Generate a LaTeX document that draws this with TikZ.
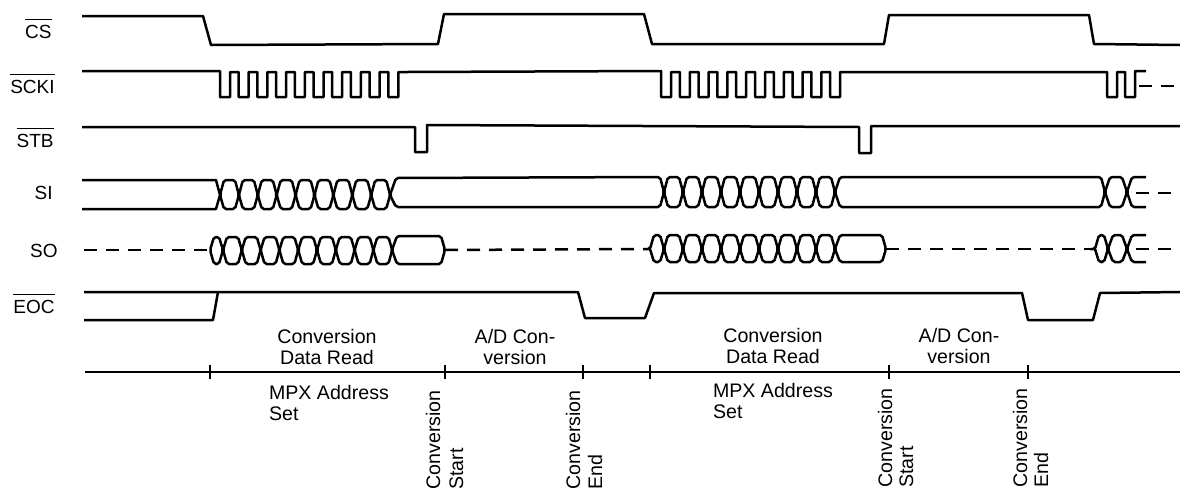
\documentclass[tikz,border=0pt]{standalone}
\usepackage{fontspec}
\usepackage{amsmath}
\setmainfont{Liberation Sans}
\usetikzlibrary{positioning}
\newcommand{\barsig}[1]{$\overline{\rule{0pt}{8pt}\mbox{#1}}$}
\tikzset{
  wave/.style={line width=1.25pt, line join=round},
  eye/.style={wave, rounded corners=1pt},
  dashwave/.style={line width=1.25pt, dash pattern=on 6.5pt off 4.5pt},
  signame/.style={anchor=base east, inner sep=0pt, font=\fontsize{9.5}{10}\selectfont},
  phase/.style={align=center, font=\fontsize{9.8}{10.5}\selectfont},
  event/.style={rotate=90, anchor=base west, inner sep=0pt, font=\fontsize{9.8}{10}\selectfont}
}
\begin{document}
\begin{tikzpicture}[x=0.5pt,y=-0.5pt]
\useasboundingbox (0,0) rectangle (1180,493);

% CS
\node[signame] (cs) at (52,38) {\barsig{CS}};
\draw[wave] (82,16) -- (203,16) -- (211,45) -- (438,44) -- (444,14) -- (644,14)
  -- (652,44) -- (884,44) -- (889,15) -- (1089,15) -- (1094,44) -- (1180,45);

% SCKI
\node[signame] (scki) at (55,93) {\barsig{SCKI}};
\draw[wave] (82,71) -- (220,71)
  \foreach \n in {0,...,9} {
    -- ({220+18.7*\n},97) -- ({230+18.7*\n},97) -- ({230+18.7*\n},72) -- ({238.7+18.7*\n},72)
  } -- (661,71)
  \foreach \n in {0,...,9} {
    -- ({661+18.8*\n},97) -- ({671+18.8*\n},97) -- ({671+18.8*\n},72) -- ({679.8+18.8*\n},72)
  } -- (1107,72) -- (1107,97) -- (1117,97) -- (1117,72) -- (1125,72) -- (1125,97) -- (1135,97)
  -- (1135,71) -- (1146,71);
\draw[dashwave] (1139,86) -- (1180,86);

% STB
\node[signame] (stb) at (54,147) {\barsig{STB}};
\draw[wave] (82,127) -- (415,127) -- (415,152) -- (427,152) -- (427,125) -- (859,127)
  -- (859,153) -- (871,153) -- (871,126) -- (1180,126);

% SI
\node[signame] (si) at (53,199) {SI};
\draw[wave] (82,180) -- (216,180) -- (220,195) -- (216,209) -- (82,209);
\foreach \n in {0,...,8} {
  \draw[eye] ({220+18.9*\n},195) -- ({224+18.9*\n},180) -- ({235+18.9*\n},180) -- ({238.9+18.9*\n},195)
    -- ({235+18.9*\n},209) -- ({224+18.9*\n},209) -- cycle;
}
\draw[eye] (390,195) -- (396,178) -- (660,177) -- (664,192) -- (660,207) -- (396,207) -- cycle;
\foreach \n in {0,...,8} {
  \draw[eye] ({664+19*\n},192) -- ({668+19*\n},177) -- ({679+19*\n},177) -- ({683+19*\n},192)
    -- ({679+19*\n},207) -- ({668+19*\n},207) -- cycle;
}
\draw[eye] (835,192) -- (840,177) -- (1101,177) -- (1105,192) -- (1101,207) -- (840,207) -- cycle;
\draw[eye] (1105,192) -- (1110,177) -- (1122,177) -- (1127,192) -- (1122,207) -- (1110,207) -- cycle;
\draw[eye] (1146,177) -- (1132,177) -- (1127,192) -- (1132,207) -- (1146,207);
\draw[dashwave] (1136,193) -- (1180,193);

% SO
\node[signame] (so) at (58,257) {SO};
\draw[dashwave] (84,250) -- (210,250);
\draw[eye] (210,250) -- (214,237) -- (219,237) -- (223,250) -- (219,264) -- (214,264) -- cycle;
\foreach \n in {0,...,8} {
  \draw[eye] ({223+18.8*\n},250) -- ({227+18.8*\n},237) -- ({238+18.8*\n},237) -- ({241.8+18.8*\n},250)
    -- ({238+18.8*\n},264) -- ({227+18.8*\n},264) -- cycle;
}
\draw[eye] (392,250) -- (397,236) -- (441,236) -- (445,250) -- (441,264) -- (397,264) -- cycle;
\draw[dashwave] (445,250) -- (645,249);
\draw[eye] (645,249) -- (650,249) -- (654,235) -- (660,235) -- (664,249) -- (660,262) -- (654,262) -- (650,249);
\foreach \n in {0,...,8} {
  \draw[eye] ({664+19*\n},249) -- ({668+19*\n},235) -- ({679+19*\n},235) -- ({683+19*\n},249)
    -- ({679+19*\n},262) -- ({668+19*\n},262) -- cycle;
}
\draw[eye] (835,249) -- (840,235) -- (882,235) -- (886,249) -- (882,262) -- (840,262) -- cycle;
\draw[dashwave] (886,249) -- (1090,249);
\draw[eye] (1090,249) -- (1095,249) -- (1099,235) -- (1104,235) -- (1108,249) -- (1104,262) -- (1099,262) -- (1095,249);
\draw[eye] (1108,249) -- (1113,235) -- (1122,235) -- (1127,249) -- (1122,262) -- (1113,262) -- cycle;
\draw[eye] (1146,235) -- (1132,235) -- (1127,249) -- (1132,262) -- (1146,262);
\draw[dashwave] (1136,249) -- (1180,249);

% EOC
\node[signame] (eoc) at (55,313) {\barsig{EOC}};
\draw[wave] (84,292) -- (578,292) -- (585,318) -- (645,318) -- (654,293) -- (1022,293)
  -- (1028,320) -- (1093,320) -- (1100,293) -- (1180,292);
\draw[wave] (84,320) -- (213,320) -- (218,292);

% Time axis
\draw[wave] (85,372) -- (1180,372);
\foreach \x in {210,445,583,650,889,1028} {
  \draw[wave] (\x,365) -- (\x,379);
}
\node[phase] (read1) at (327,347) {Conversion\\Data Read};
\node[phase] (conv1) at (515,347) {A/D Con-\\version};
\node[phase] (read2) at (773,346) {Conversion\\Data Read};
\node[phase] (conv2) at (959,346) {A/D Con-\\version};
\node[phase, anchor=north west, align=left] (mpx1) at (262,378) {MPX Address\\Set};
\node[phase, anchor=north west, align=left] (mpx2) at (706,376) {MPX Address\\Set};

% Conversion marks
\node[event] (start1a) at (440,490) {Conversion};
\node[event] (start1b) at (463,490) {Start};
\node[event] (end1a) at (580,490) {Conversion};
\node[event] (end1b) at (602,490) {End};
\node[event] (start2a) at (892,488) {Conversion};
\node[event] (start2b) at (913,488) {Start};
\node[event] (end2a) at (1027,488) {Conversion};
\node[event] (end2b) at (1048,488) {End};
\end{tikzpicture}
\end{document}
